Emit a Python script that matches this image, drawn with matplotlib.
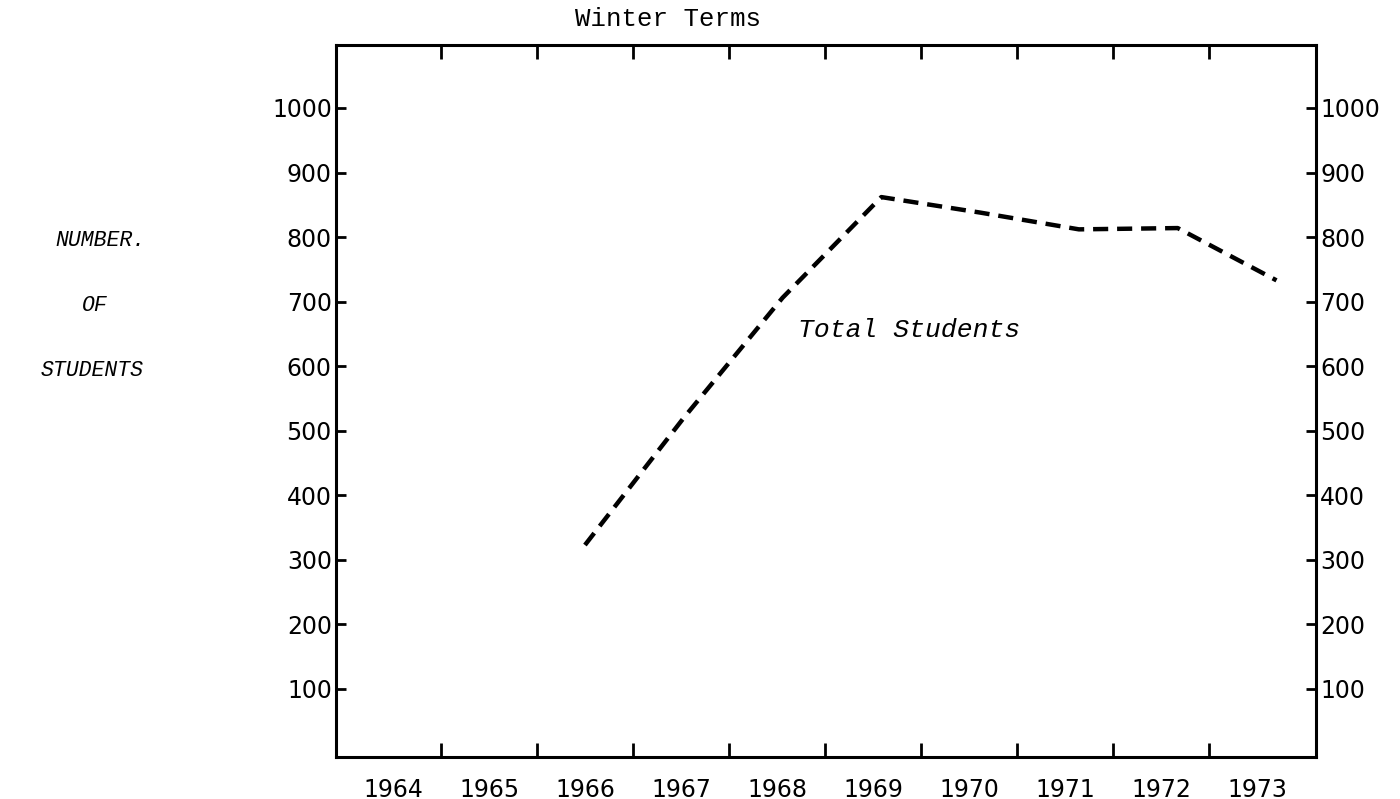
import matplotlib
matplotlib.use("Agg")
import matplotlib.pyplot as plt
from matplotlib.ticker import FixedLocator, NullFormatter

# ---- data ----
years = [1966, 1967, 1968, 1969, 1970, 1971, 1972, 1973]
total_students = [323, 520, 706, 862, 838, 812, 814, 733]
year_labels = ["1964", "1965", "1966", "1967", "1968", "1969", "1970", "1971", "1972", "1973"]
label_years = list(range(1964, 1974))
y_ticks = [100, 200, 300, 400, 500, 600, 700, 800, 900, 1000]
title = "Winter Terms"
series_label = "Total Students"
ylabel_lines = ["NUMBER.", "OF", "STUDENTS"]

fig = plt.figure(figsize=(14, 7.99), dpi=100)
ax = fig.add_axes([0.24, 0.0526, 0.70, 0.8911])

# data axis
ax.plot(years, total_students, color="black", lw=3.2, linestyle=(0, (3.4, 2.0)),
        dash_capstyle="butt", solid_joinstyle="miter")
ax.set_xlim(1963.48, 1973.40)
ax.set_ylim(-5.3, 1097.6)
ax.set_xticks([])
ax.set_yticks(y_ticks)
ax.set_yticklabels([str(v) for v in y_ticks])
ax.tick_params(axis="y", direction="in", length=7, width=2.0, left=True, right=True,
               labelleft=True, labelright=True, labelsize=17, pad=3)
for s in ax.spines.values():
    s.set_linewidth(2.2)

# year label axis (hand-drawn tick spacing)
ax2 = ax.twiny()
ax2.set_xlim(1963.406, 1973.615)
for s in ax2.spines.values():
    s.set_visible(False)
ax2.xaxis.set_major_locator(FixedLocator([y + 0.5 for y in label_years[:-1]]))
ax2.xaxis.set_major_formatter(NullFormatter())
ax2.set_xticks(label_years, minor=True)
ax2.set_xticklabels(year_labels, minor=True)
ax2.tick_params(axis="x", which="major", direction="in", length=10, width=2.0,
                top=True, bottom=True, labeltop=False, labelbottom=False)
ax2.tick_params(axis="x", which="minor", length=0, top=False, bottom=False,
                labeltop=False, labelbottom=True, labelsize=17, pad=15)

# texts
fig.text(668 / 1400, 1 - 19 / 799, title, ha="center", va="center",
         family="Liberation Mono", fontsize=18.5)
ax.text(0.4714, 0.5997, series_label, transform=ax.transAxes, ha="left", va="center",
        family="Liberation Mono", style="italic", fontsize=19)
ypos = [240, 305, 370]
xc = [100, 95, 92]
for t, yp, xcc in zip(ylabel_lines, ypos, xc):
    fig.text(xcc / 1400, 1 - yp / 799, t, ha="center", va="center",
             family="Liberation Mono", style="italic", fontsize=15.5)

fig.savefig("out.png", dpi=100)
